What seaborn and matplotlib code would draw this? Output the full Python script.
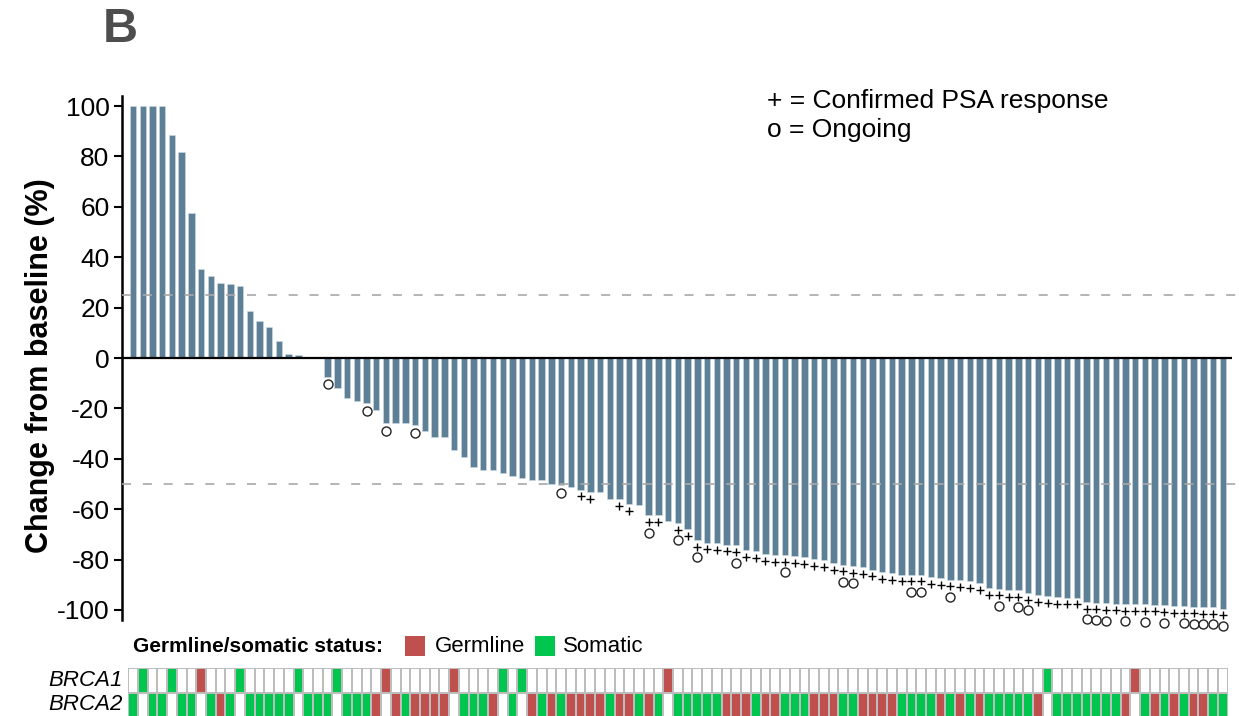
import numpy as np
import pandas as pd
import matplotlib
matplotlib.use("Agg")
import matplotlib.pyplot as plt
import seaborn as sns
from matplotlib.colors import ListedColormap
from matplotlib.patches import Rectangle

sns.set_theme(style="ticks")
plt.rcParams["font.family"] = ["Liberation Sans", "DejaVu Sans"]
plt.rcParams["lines.scale_dashes"] = False
plt.rcParams["text.color"] = "black"
plt.rcParams["ytick.labelcolor"] = "black"

# ---------------- data ----------------
change = [100, 100, 100, 100, 88.4, 81.8, 57.5, 35.3, 32.6, 29.6,
          29.3, 28.4, 18.8, 14.5, 12.5, 6.9, 1.6, 1.2, 0.5, 0.0,
          -7.4, -12.0, -15.7, -16.9, -18.0, -20.6, -25.8, -25.8, -25.9, -26.6,
          -28.8, -31.2, -31.4, -36.5, -39.4, -43.3, -44.5, -44.6, -45.6, -47.0,
          -47.7, -48.6, -48.6, -49.9, -50.6, -51.3, -52.2, -53.2, -53.2, -55.9,
          -56.1, -57.9, -58.3, -62.5, -62.5, -64.9, -65.5, -67.8, -72.2, -73.3,
          -73.4, -74.1, -74.4, -76.4, -76.5, -77.9, -78.1, -78.3, -78.7, -79.1,
          -79.9, -80.1, -81.4, -82.0, -82.7, -83.1, -84.0, -84.9, -85.3, -86.0,
          -86.0, -86.0, -86.9, -87.3, -88.0, -88.2, -88.5, -89.3, -91.2, -91.5,
          -92.2, -92.2, -93.3, -94.2, -94.5, -94.8, -95.1, -95.1, -96.8, -97.1,
          -97.4, -97.5, -97.6, -97.6, -97.8, -97.9, -98.2, -98.4, -98.5, -98.7,
          -98.8, -98.9, -99.5]
patients = list(range(len(change)))

psa_response = [46, 47, 50, 51, 53, 54, 56, 57] + list(range(58, 113))
ongoing = [20, 24, 26, 29, 44, 53, 56, 58, 62, 67, 73, 74, 80, 81, 84, 89, 91, 92,
           98, 99, 100, 102, 104, 106, 108, 109, 110, 111, 112]

# G = germline, S = somatic, - = none
brca1_status = list("-S--S--G--" "-S-----S--" "-S----G---" "---G----S-" "S---------"
                    "-----G----" "----------" "----------" "----------" "----S-----"
                    "---G------" "---")
brca2_status = list("S-SS-SS-SG" "S-SSSSS-SS" "S-SSSG-GSG" "GGG-SSSG-S" "-GSGSGGGGS"
                    "GGSGS-SSSS" "SGGGSGGSSS" "GGGSSGGGGS" "SSSGSGSGSS" "SSSG-SSSSS"
                    "SSG-SGSGSG" "GSS")
yticks = [100, 80, 60, 40, 20, 0, -20, -40, -60, -80, -100]

bar_color = "#5E8097"
red = "#C0504D"
green = "#00C650"

# ---------------- layout ----------------
W, H = 1239, 716
def fx(px): return px / W
def fy(py): return 1 - py / H

fig = plt.figure(figsize=(W / 100, H / 100), dpi=100)
ax = fig.add_axes([fx(122), fy(620), fx(1232) - fx(122), fy(96) - fy(620)])

df = pd.DataFrame({"patient": patients, "change": change})
sns.barplot(data=df, x="patient", y="change", order=patients, color=bar_color,
            saturation=1, width=0.66, edgecolor="#cfdbe3", linewidth=0.4, ax=ax)

xmin, xmax = -1.13, 112.95
ax.set_xlim(xmin, xmax)
ax.set_ylim(-104, 104)
ax.set_xticks([])
ax.set_xlabel("")
ax.set_ylabel("")
ax.set_yticks(yticks)
ax.set_yticklabels([str(v) for v in yticks], fontsize=19, color="black")
ax.tick_params(axis="y", direction="out", length=6, width=1.5, color="black", pad=3)
for s in ["top", "right", "bottom"]:
    ax.spines[s].set_visible(False)
ax.spines["left"].set_linewidth(1.8)
ax.spines["left"].set_color("black")

ax.axhline(0, color="black", lw=1.6, zorder=4)
ext = (1239 - 122) / (1232 - 122)
for yv in (25, -50):
    ax.axhline(yv, xmin=0, xmax=ext, color="#A8A8A8", lw=1.2, ls=(0, (6.5, 8.5)),
               clip_on=False, zorder=3)

psa_set = set(psa_response)
psa_y = [change[i] - 2.7 for i in psa_response]
ong_y = [change[i] - (6.8 if i in psa_set else 3.0) for i in ongoing]
ax.scatter(psa_response, psa_y, marker="+", s=30, color="black", linewidths=1.0,
           clip_on=False, zorder=5)
ax.scatter(ongoing, ong_y, marker="o", s=42, facecolor="white", edgecolor="#222222",
           linewidths=1.0, clip_on=False, zorder=5)

fig.text(fx(40), fy(366), "Change from baseline (%)", rotation=90, fontsize=22,
         fontweight="bold", ha="center", va="center")
fig.text(fx(767), fy(101), "+ = Confirmed PSA response", fontsize=19, ha="left", va="center")
fig.text(fx(767), fy(130), "o = Ongoing", fontsize=19, ha="left", va="center")
fig.text(fx(103), fy(30), "B", fontsize=35, fontweight="bold", color="#4D4D4D",
         ha="left", va="center")

# germline / somatic legend
fig.text(fx(133), fy(646), "Germline/somatic status:", fontsize=15, fontweight="bold",
         ha="left", va="center")
fig.add_artist(Rectangle((fx(405), fy(656)), 20 / W, 20 / H, transform=fig.transFigure,
                         facecolor=red, edgecolor="none"))
fig.text(fx(435), fy(646), "Germline", fontsize=16, ha="left", va="center")
fig.add_artist(Rectangle((fx(535), fy(656)), 20 / W, 20 / H, transform=fig.transFigure,
                         facecolor=green, edgecolor="none"))
fig.text(fx(563), fy(646), "Somatic", fontsize=16, ha="left", va="center")

# BRCA grid
unit = (1232 - 122) / (xmax - xmin)
gleft = 122 + (-0.5 - xmin) * unit
gax = fig.add_axes([fx(gleft), fy(717), len(patients) * unit / W, 49 / H])
code = {"-": 0, "G": 1, "S": 2}
mat = np.array([[code[c] for c in brca1_status], [code[c] for c in brca2_status]])
sns.heatmap(mat, ax=gax, cmap=ListedColormap(["white", red, green]), vmin=-0.5, vmax=2.5,
            cbar=False, linewidths=1.1, linecolor="#BDBDBD",
            xticklabels=False, yticklabels=False)
fig.text(fx(123), fy(680), "BRCA1", style="italic", fontsize=16, ha="right", va="center")
fig.text(fx(123), fy(705), "BRCA2", style="italic", fontsize=16, ha="right", va="center")

fig.savefig("out.png", dpi=100)
